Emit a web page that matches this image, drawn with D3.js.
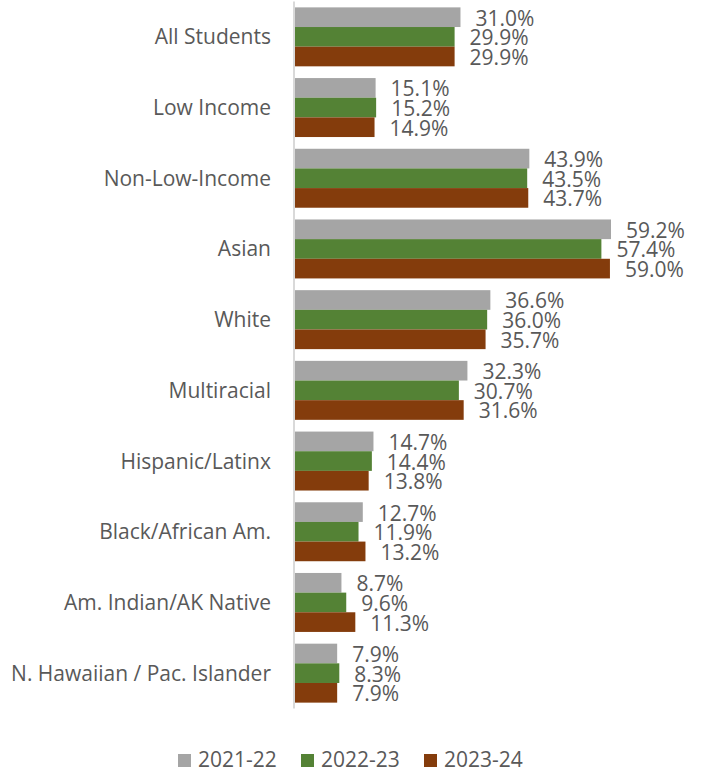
<!DOCTYPE html>
<html>
<head>
<meta charset="utf-8">
<script src="https://cdn.jsdelivr.net/npm/d3@7"></script>
<style>
  html, body { margin: 0; padding: 0; background: #fff; }
  svg text { font-family: "Open Sans", "Noto Sans", sans-serif; fill: #595959; }
</style>
</head>
<body>
<svg id="chart" width="706" height="770"></svg>
<script>
// Student groups shown on the vertical axis
const categories = [
  "All Students", "Low Income", "Non-Low-Income", "Asian", "White",
  "Multiracial", "Hispanic/Latinx", "Black/African Am.",
  "Am. Indian/AK Native", "N. Hawaiian / Pac. Islander"
];
// School years (series)
const years = ["2021-22", "2022-23", "2023-24"];
// Percent values per year, in category order
const values2122 = [31.0, 15.1, 43.9, 59.2, 36.6, 32.3, 14.7, 12.7, 8.7, 7.9];
const values2223 = [29.9, 15.2, 43.5, 57.4, 36.0, 30.7, 14.4, 11.9, 9.6, 8.3];
const values2324 = [29.9, 14.9, 43.7, 59.0, 35.7, 31.6, 13.8, 13.2, 11.3, 7.9];
const seriesColors = ["#A5A5A5", "#548235", "#843C0C"];

const seriesValues = [values2122, values2223, values2324];
const rows = categories.map((c, i) => ({
  category: c,
  values: years.map((y, k) => ({ year: y, k, value: seriesValues[k][i] }))
}));

const FONT = 21;
const svg = d3.select("#chart");
const x0 = 295;
const x = d3.scaleLinear().domain([0, 59.2]).range([x0, 611]);
const y = d3.scaleBand().domain(categories).range([1.5, 708.5]).paddingInner(0.166).paddingOuter(0.083);
const yInner = d3.scaleBand().domain(years).range([0, y.bandwidth()]);

// Category axis line
svg.append("line")
  .attr("x1", x0 - 1).attr("x2", x0 - 1)
  .attr("y1", 1.5).attr("y2", 708.5)
  .attr("stroke", "#D9D9D9").attr("stroke-width", 2);

// Category labels
svg.append("g").selectAll("text")
  .data(categories)
  .join("text")
  .attr("x", 271)
  .attr("y", d => y(d) + y.bandwidth() / 2 + 7.5)
  .attr("text-anchor", "end")
  .attr("font-size", FONT)
  .text(d => d);

const groups = svg.append("g").selectAll("g")
  .data(rows)
  .join("g")
  .attr("transform", d => `translate(0,${y(d.category)})`);

groups.selectAll("rect")
  .data(d => d.values)
  .join("rect")
  .attr("x", x0)
  .attr("y", d => yInner(d.year))
  .attr("width", d => x(d.value) - x0)
  .attr("height", yInner.bandwidth())
  .attr("fill", d => seriesColors[d.k]);

// Value labels beside each bar
groups.selectAll("text.val")
  .data(d => d.values)
  .join("text")
  .attr("class", "val")
  .attr("x", d => x(d.value) + 15)
  .attr("y", d => yInner(d.year) + yInner.bandwidth() / 2 + 8.5)
  .attr("font-size", FONT)
  .text(d => d.value.toFixed(1) + "%");

// Legend
const legendX = [178, 301, 424];
const legend = svg.append("g").selectAll("g")
  .data(years)
  .join("g")
  .attr("transform", (d, i) => `translate(${legendX[i]},754)`);
legend.append("rect")
  .attr("width", 13).attr("height", 13)
  .attr("fill", (d, i) => seriesColors[i]);
legend.append("text")
  .attr("x", 20).attr("y", 13)
  .attr("font-size", FONT)
  .text(d => d);
</script>
</body>
</html>
